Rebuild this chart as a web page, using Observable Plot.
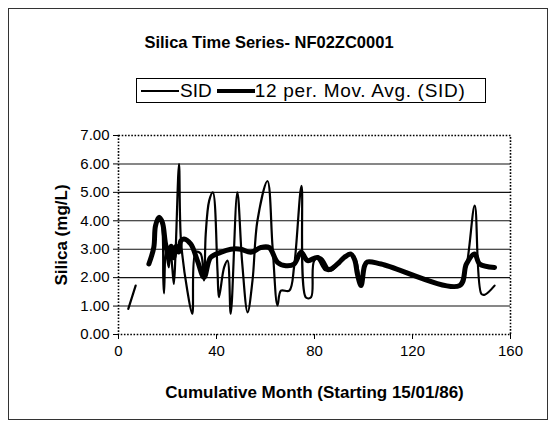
<!DOCTYPE html>
<html>
<head>
<meta charset="utf-8">
<script src="https://cdn.jsdelivr.net/npm/d3@7"></script>
<script src="https://cdn.jsdelivr.net/npm/@observablehq/plot@0.6"></script>
<style>
  html, body { margin: 0; padding: 0; background: #fff; }
  #wrap { position: relative; width: 555px; height: 427px; font-family: Arial, "Liberation Sans", sans-serif; color: #000; }
  #border { position: absolute; left: 8px; top: 8px; width: 540px; height: 412px; border: 1px solid #333; box-sizing: border-box; }
  #title { position: absolute; left: 0; width: 538px; top: 34px; line-height: 17px; text-align: center; font-weight: bold; font-size: 16.5px; }
  #legend { position: absolute; left: 136px; top: 78px; width: 350px; height: 25px; border: 1px solid #000; box-sizing: border-box; display: flex; align-items: center; font-size: 19px; letter-spacing: 0.7px; white-space: nowrap; }
  #legend .sw { display: inline-block; background: #000; }
  #chart { position: absolute; left: 0; top: 0; }
  #chart svg { font-family: Arial, "Liberation Sans", sans-serif; }
  [aria-label="y-axis label"] text, [aria-label="x-axis label"] text { font-weight: bold; font-size: 17px; }
</style>
</head>
<body>
<div id="wrap">
  <div id="border"></div>
  <div id="chart"></div>
  <div id="title">Silica Time Series- NF02ZC0001</div>
  <div id="legend">
    <span class="sw" style="width:38px;height:2px;margin-left:4px;"></span><span style="margin-left:1px;letter-spacing:0;">SID</span>
    <span class="sw" style="width:38px;height:4px;margin-left:5px;"></span><span>12 per. Mov. Avg. (SID)</span>
  </div>
</div>
<script>
// SID series (month, silica mg/L); null = gap
const sidMonth = [4, 7, 10, 12.4, 14.4, 15.1, 16.5, 17.6, 18.3, 18.6, 19.3, 20.5, 21.2, 22.0, 22.6, 23.3, 24.7, 25.5, 28.1, 30.1, 31.5, 33.5, 34.9, 35.6, 37.0, 38.5, 40.4, 41.0, 43.1, 44.5, 45.8, 48.5, 50.5, 52.7, 54.7, 56.7, 60.8, 62.9, 64.9, 66.3, 69.7, 71.7, 74.7, 76.5, 78.6, 79.9, 82.7, 86.7, 90.8, 95.0, 97.0, 99.0, 101.0, 103.1, 107.2, 139.2, 142.0, 145.4, 148.1, 149.5, 153.5];
const sidValue = [0.9, 1.72, null, 2.48, 3.06, 3.82, 4.12, 3.95, 1.9, 1.45, 2.95, 2.36, 3.0, 2.3, 1.78, 2.9, 5.99, 3.3, 1.54, 0.73, 2.9, 2.85, 1.9, 3.53, 4.7, 5.0, 2.25, 1.31, 2.36, 2.6, 0.73, 5.0, 2.5, 0.78, 1.9, 4.0, 5.4, 3.06, 1.02, 1.54, 1.54, 2.4, 5.23, 1.3, 1.31, 2.6, 2.71, 2.25, 2.6, 2.83, 2.6, 1.72, 2.48, 2.54, 2.48, 1.72, 2.4, 4.53, 1.43, 1.4, 1.72];

// 12 period moving average
const maMonth = [12.4, 14.4, 15.1, 16.5, 17.9, 19.2, 20.6, 21.5, 22.5, 23.5, 24.5, 25.5, 26.7, 29.5, 32.2, 34.9, 37.6, 41.7, 45.8, 49.9, 54.0, 58.1, 61.5, 64.9, 68.3, 71.7, 74.5, 77.2, 81.3, 84.7, 86.7, 90.1, 92.1, 94.9, 96.5, 97.5, 99.0, 100.4, 101.5, 107.2, 139.2, 142.0, 145.4, 147.4, 153.5];
const maValue = [2.48, 3.06, 3.82, 4.12, 3.94, 3.19, 2.71, 3.1, 2.7, 3.1, 2.9, 3.3, 3.36, 3.18, 2.6, 2.01, 2.71, 2.89, 3.0, 3.0, 2.89, 3.06, 3.06, 2.54, 2.42, 2.48, 2.89, 2.6, 2.71, 2.3, 2.3, 2.54, 2.71, 2.83, 2.6, 2.13, 1.72, 2.4, 2.55, 2.48, 1.72, 2.48, 2.83, 2.48, 2.36];

const xTicks = [0, 40, 80, 120, 160];
const yTicks = [0, 1, 2, 3, 4, 5, 6, 7];
const gridValues = [1, 2, 3, 4, 5, 6];

const sid = sidMonth.map((m, i) => ({month: m, value: sidValue[i]}));
const ma = maMonth.map((m, i) => ({month: m, value: maValue[i]}));

const chart = Plot.plot({
  width: 555,
  height: 427,
  marginLeft: 118,
  marginRight: 45,
  marginTop: 135,
  marginBottom: 93,
  style: {fontSize: "15px", color: "#000", background: "transparent"},
  x: {domain: [0, 160]},
  y: {domain: [0, 7]},
  marks: [
    Plot.ruleY(gridValues, {stroke: "#111", strokeWidth: 1.1}),
    Plot.frame({stroke: "#000", strokeWidth: 1.6, strokeDasharray: "1.6,1.6"}),
    Plot.axisY({ticks: yTicks, tickFormat: d3.format(".2f"), tickSize: 5, tickPadding: 4,
      label: "Silica (mg/L)", labelAnchor: "center", labelArrow: "none", labelOffset: 64}),
    Plot.axisX({ticks: xTicks, tickSize: 5, tickPadding: 6,
      label: "Cumulative Month (Starting 15/01/86)", labelAnchor: "center", labelArrow: "none", labelOffset: 63}),
    Plot.line(ma, {x: "month", y: "value", stroke: "#000", strokeWidth: 5, strokeLinejoin: "round", strokeLinecap: "round", curve: "catmull-rom"}),
    Plot.line(sid, {x: "month", y: "value", stroke: "#000", strokeWidth: 2.2, strokeLinejoin: "round", curve: "catmull-rom"})
  ]
});
document.getElementById("chart").appendChild(chart);
</script>
</body>
</html>
